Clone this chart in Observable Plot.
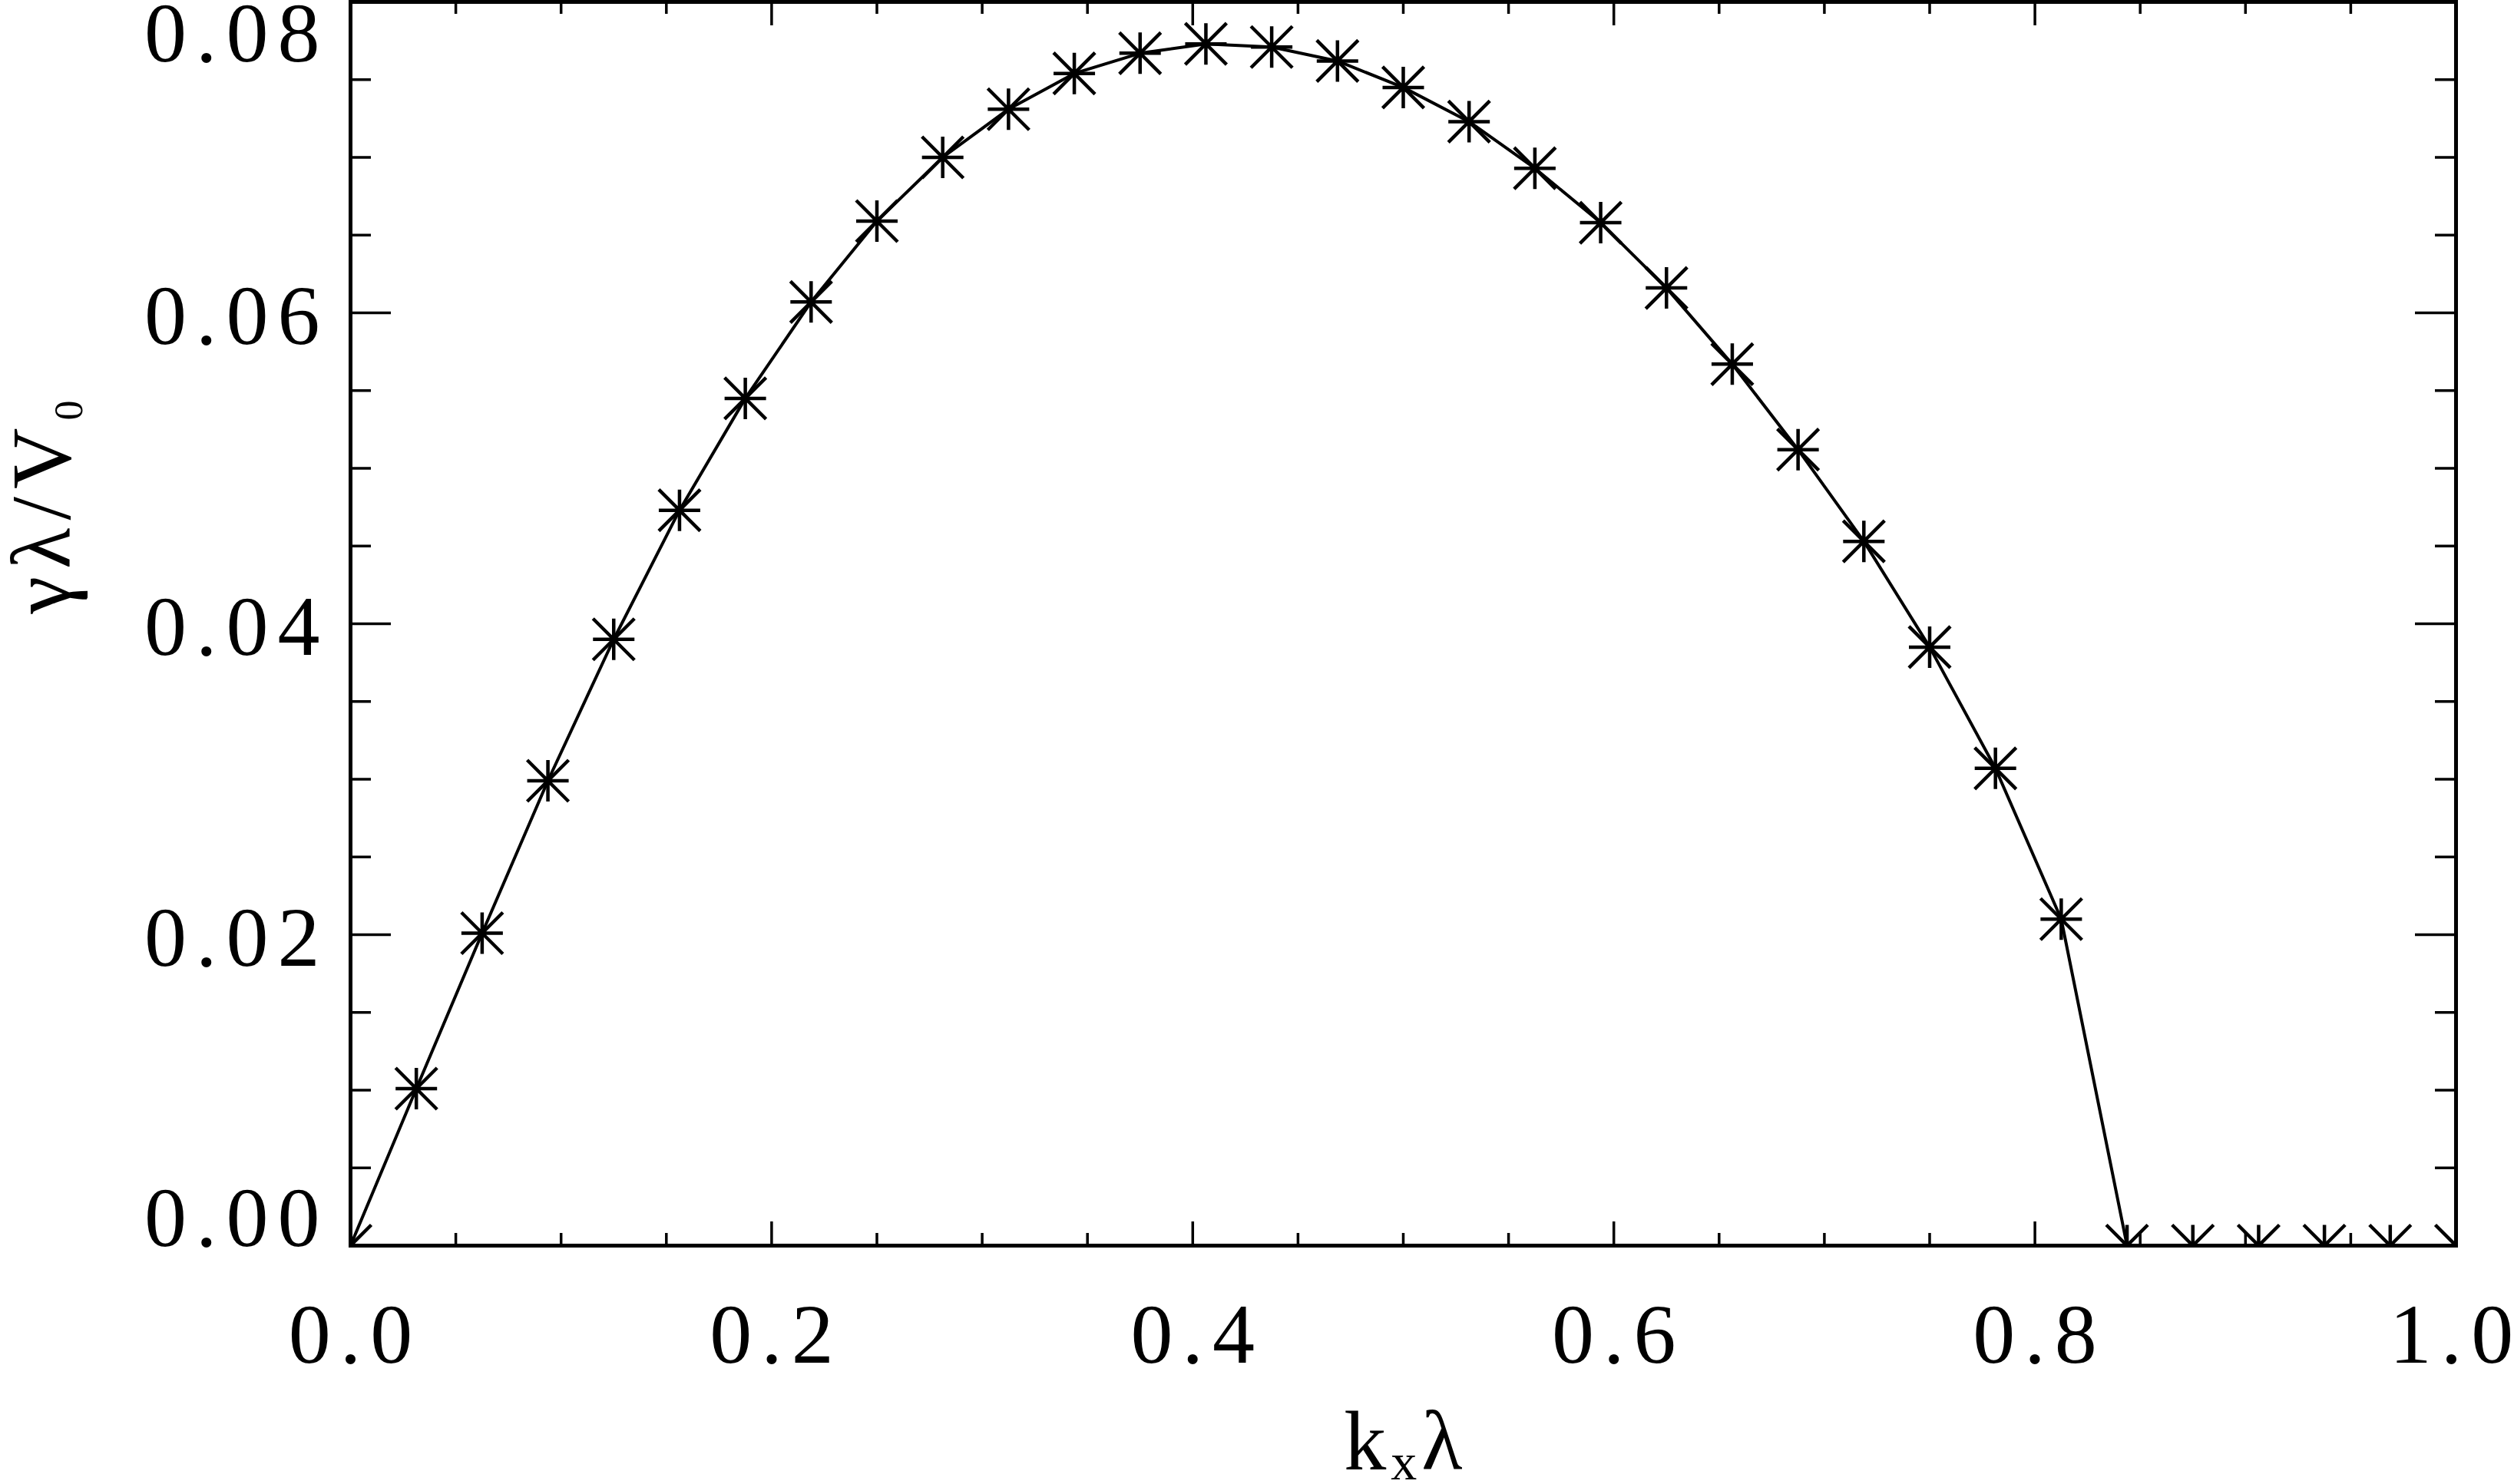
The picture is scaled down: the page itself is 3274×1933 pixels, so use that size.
<!DOCTYPE html>
<html>
<head>
<meta charset="utf-8">
<script src="https://cdn.jsdelivr.net/npm/d3@7"></script>
<script src="https://cdn.jsdelivr.net/npm/@observablehq/plot@0.6"></script>
<style>
  html, body { margin: 0; padding: 0; background: #fff; overflow: hidden; }
</style>
</head>
<body>
<div id="chart"></div>
<script>
// ---- data ----
const kx = [0, 0.03125, 0.0625, 0.09375, 0.125, 0.15625, 0.1875, 0.21875, 0.25, 0.28125,
            0.3125, 0.34375, 0.375, 0.40625, 0.4375, 0.46875, 0.5, 0.53125, 0.5625, 0.59375,
            0.625, 0.65625, 0.6875, 0.71875, 0.75, 0.78125, 0.8125, 0.84375, 0.875, 0.90625,
            0.9375, 0.96875, 1.0];
const growth = [0, 0.0101, 0.0201, 0.0299, 0.0390, 0.0473, 0.0545, 0.0607, 0.0659, 0.0700,
                0.0731, 0.0754, 0.0767, 0.0773, 0.0771, 0.0762, 0.0745, 0.0723, 0.0693, 0.0658,
                0.0616, 0.0567, 0.0512, 0.0453, 0.0385, 0.0307, 0.0210, 0, 0, 0,
                0, 0, 0];

const xMajor = [0, 0.2, 0.4, 0.6, 0.8, 1.0];
const xMinor = [0.05, 0.1, 0.15, 0.25, 0.3, 0.35, 0.45, 0.5, 0.55, 0.65, 0.7, 0.75, 0.85, 0.9, 0.95];
const xTickLabels = ["0.0", "0.2", "0.4", "0.6", "0.8", "1.0"];
const yMajor = [0, 0.02, 0.04, 0.06, 0.08];
const yMinor = [0.005, 0.01, 0.015, 0.025, 0.03, 0.035, 0.045, 0.05, 0.055, 0.065, 0.07, 0.075];
const yTickLabels = ["0.00", "0.02", "0.04", "0.06", "0.08"];
const xTitle = ["k", "x", "λ"];
const yTitle = ["γλ/V", "0"];

// ---- tables ----
const points = kx.map((x, i) => ({x, y: growth[i]}));
const xLabelTbl = xMajor.map((v, i) => ({v, label: xTickLabels[i]}));
const yLabelTbl = yMajor.map((v, i) => ({v, label: yTickLabels[i]}));

const W = 3274, H = 1933;
const mL = 456, mR = 76, mT = 2, mB = 311;
const innerW = W - mL - mR, innerH = H - mT - mB;
const FS = 110;
const LS = 12; // letter spacing of tick labels (between characters only)

// 8-armed IDL-style asterisk
const asterisk8 = {
  draw(context, size) {
    const r = Math.sqrt(size / Math.PI);
    context.moveTo(-r, 0); context.lineTo(r, 0);
    context.moveTo(0, -r); context.lineTo(0, r);
    context.moveTo(-r, -r); context.lineTo(r, r);
    context.moveTo(-r, r); context.lineTo(r, -r);
  }
};

const tickW = 3.5;
const chart = Plot.plot({
  width: W, height: H,
  marginLeft: mL, marginRight: mR, marginTop: mT, marginBottom: mB,
  style: {fontFamily: "'Liberation Serif', serif", fontSize: FS + "px", background: "white", overflow: "visible", color: "black"},
  x: {domain: [0, 1], axis: null},
  y: {domain: [0, 0.08], axis: null},
  marks: [
    Plot.line(points, {x: "x", y: "y", stroke: "black", strokeWidth: 4, clip: true}),
    Plot.dot(points, {x: "x", y: "y", symbol: asterisk8, r: 27, fill: "none", stroke: "black", strokeWidth: 4.5, clip: true}),
    // ticks (inward) bottom/top
    Plot.ruleX(xMajor, {x: d => d, insetTop: innerH - 31, stroke: "black", strokeWidth: tickW}),
    Plot.ruleX(xMajor, {x: d => d, insetBottom: innerH - 31, stroke: "black", strokeWidth: tickW}),
    Plot.ruleX(xMinor, {x: d => d, insetTop: innerH - 16, stroke: "black", strokeWidth: tickW}),
    Plot.ruleX(xMinor, {x: d => d, insetBottom: innerH - 16, stroke: "black", strokeWidth: tickW}),
    // ticks (inward) left/right
    Plot.ruleY(yMajor, {y: d => d, insetRight: innerW - 53, stroke: "black", strokeWidth: tickW}),
    Plot.ruleY(yMajor, {y: d => d, insetLeft: innerW - 53, stroke: "black", strokeWidth: tickW}),
    Plot.ruleY(yMinor, {y: d => d, insetRight: innerW - 27, stroke: "black", strokeWidth: tickW}),
    Plot.ruleY(yMinor, {y: d => d, insetLeft: innerW - 27, stroke: "black", strokeWidth: tickW}),
    Plot.frame({stroke: "black", strokeWidth: 5}),
    // tick labels
    Plot.text(xLabelTbl.filter(d => d.v < 1), {x: "v", text: "label", frameAnchor: "bottom", lineAnchor: "top",
      dy: 74, dx: 0, fontSize: FS, fill: "black"}),
    Plot.text(xLabelTbl.filter(d => d.v >= 1), {x: "v", text: "label", frameAnchor: "bottom", lineAnchor: "top",
      dy: 74, dx: -6, fontSize: FS, fill: "black"}),
    Plot.text(yLabelTbl.filter(d => d.v > 0 && d.v < 0.08), {y: "v", text: "label", frameAnchor: "left",
      textAnchor: "end", lineAnchor: "middle", dx: -40, dy: 5, fontSize: FS, fill: "black"}),
    Plot.text(yLabelTbl.filter(d => d.v >= 0.08), {y: "v", text: "label", frameAnchor: "left",
      textAnchor: "end", lineAnchor: "top", dx: -40, dy: -1, fontSize: FS, fill: "black"}),
    Plot.text(yLabelTbl.filter(d => d.v <= 0), {y: "v", text: "label", frameAnchor: "left",
      textAnchor: "end", lineAnchor: "bottom", dx: -40, dy: 0, fontSize: FS, fill: "black"}),
    // axis titles
    Plot.text([xTitle.join("")], {text: d => d, frameAnchor: "bottom", lineAnchor: "bottom",
      dy: 291, dx: 3, fontSize: FS, fill: "black"}),
    Plot.text([yTitle.join("")], {text: d => d, frameAnchor: "left", lineAnchor: "bottom", rotate: -90,
      dx: -366, dy: -13, fontSize: FS, fill: "black"})
  ]
});
document.getElementById("chart").appendChild(chart);

// styling of texts, subscripts as real tspans
const svg = d3.select(chart);
const tickSet = new Set([...xTickLabels, ...yTickLabels]);
svg.selectAll("text").each(function () {
  const t = d3.select(this);
  const s = this.textContent;
  if (tickSet.has(s)) {
    t.text(null);
    t.append("tspan").style("letter-spacing", LS + "px").text(s.slice(0, -1));
    t.append("tspan").style("letter-spacing", "0px").text(s.slice(-1));
  } else if (s === xTitle.join("")) {
    t.style("letter-spacing", "6px");
    t.text(null);
    t.append("tspan").text(xTitle[0]);
    t.append("tspan").attr("font-size", 68).attr("dy", 13).text(xTitle[1]);
    t.append("tspan").attr("font-size", FS).attr("dy", -13).text(xTitle[2]);
  } else if (s === yTitle.join("")) {
    t.style("letter-spacing", "10px");
    t.text(null);
    t.append("tspan").text(yTitle[0]);
    t.append("tspan").attr("font-size", 52).attr("dy", 16).text(yTitle[1]);
  }
});
</script>
</body>
</html>
